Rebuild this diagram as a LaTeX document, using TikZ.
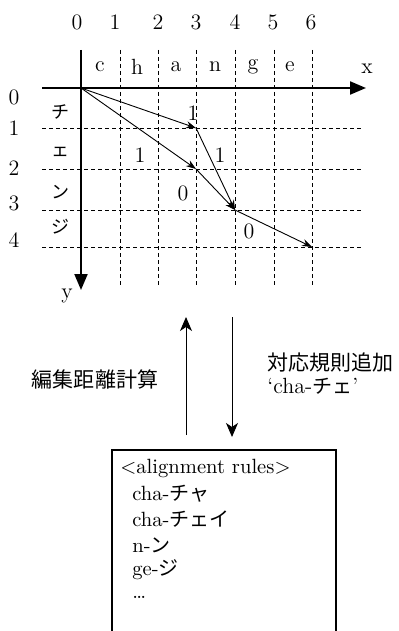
\documentclass[tikz,border=0pt]{standalone}
\usepackage{fontspec}
\newfontfamily\jp{Noto Sans CJK JP}
\usetikzlibrary{arrows.meta}
\begin{document}
\begin{tikzpicture}[x=0.5pt,y=-0.5pt,
  lbl/.style={font=\fontsize{11}{13}\selectfont, inner sep=0pt},
  boxtxt/.style={font=\fontsize{10.3}{12}\selectfont, inner sep=0pt, anchor=west},
  jlbl/.style={font=\jp\fontsize{10.5}{12}\selectfont, inner sep=0pt},
  kana/.style={font=\jp\fontsize{9}{11}\selectfont, inner sep=0pt},
  gridline/.style={line width=0.5pt, dash pattern=on 2pt off 1.5pt},
  axis/.style={line width=1pt, -{Triangle[length=8pt,width=6.5pt]}},
  pathar/.style={line width=0.45pt, -{Stealth[length=5pt,width=3.5pt]}},
  flow/.style={line width=0.5pt, -{Stealth[length=7pt,width=6pt,inset=2pt]}},
]
\useasboundingbox (0,0) rectangle (399,631);
% dashed grid
\foreach \x in {120,158,196,235,274,312} \draw[gridline] (\x,50) -- (\x,287);
\foreach \y in {128,169,210,247} \draw[gridline] (42,\y) -- (362,\y);
% axes
\coordinate (xs) at (42,88);
\coordinate (xe) at (366,88);
\coordinate (ys) at (81,50);
\coordinate (ye) at (81,290);
\draw[axis] (xs) -- (xe);
\draw[axis] (ys) -- (ye);
\node[lbl] (xl) at (367,69) {x};
\node[lbl] (yl) at (67,296) {y};
% column numbers
\node[lbl] (t0) at (77,22) {0};
\node[lbl] (t1) at (115,22) {1};
\node[lbl] (t2) at (158,22) {2};
\node[lbl] (t3) at (196,22) {3};
\node[lbl] (t4) at (235,22) {4};
\node[lbl] (t5) at (273,22) {5};
\node[lbl] (t6) at (311,22) {6};
% row numbers
\node[lbl] (s0) at (14,97) {0};
\node[lbl] (s1) at (14,128) {1};
\node[lbl] (s2) at (14,168) {2};
\node[lbl] (s3) at (14,203) {3};
\node[lbl] (s4) at (14,240) {4};
% letters
\node[lbl] (c1) at (100,67) {c};
\node[lbl] (c2) at (137,67) {h};
\node[lbl] (c3) at (176,67) {a};
\node[lbl] (c4) at (215,67) {n};
\node[lbl] (c5) at (253,67) {g};
\node[lbl] (c6) at (290,67) {e};
\node[kana] (k1) at (60,112) {チ};
\node[kana] (k2) at (60,152) {ェ};
\node[kana] (k3) at (60,192) {ン};
\node[kana] (k4) at (60,227) {ジ};
% cell values
\node[lbl] (v1) at (193,113) {1};
\node[lbl] (v2) at (140,155) {1};
\node[lbl] (v3) at (220,155) {1};
\node[lbl] (v4) at (183,193) {0};
\node[lbl] (v5) at (249,231) {0};
% path arrows
\coordinate (p00) at (81,88);
\coordinate (p31) at (196,128);
\coordinate (p32) at (196,169);
\coordinate (p43) at (235,210);
\coordinate (p64) at (312,247);
\draw[pathar] (p00) -- (p31);
\draw[pathar] (p00) -- (p32);
\draw[pathar] (p31) -- (p43);
\draw[pathar] (p32) -- (p43);
\draw[pathar] (p43) -- (p64);
% flow arrows and labels
\coordinate (ub) at (186,435);
\coordinate (ut) at (186,317);
\coordinate (dt) at (232,317);
\coordinate (db) at (232,437);
\draw[flow] (ub) -- (ut);
\draw[flow] (dt) -- (db);
\node[jlbl] (calc) at (95,379) {編集距離計算};
\node[jlbl, anchor=west] (add) at (267,363) {対応規則追加};
\node[lbl, anchor=west] (addr) at (267,386) {`cha-{\jp\fontsize{10}{12}\selectfont チェ}'};
% rules box
\draw[line width=0.6pt] (112,631) -- (112,450) -- (336,450) -- (336,631);
\node[boxtxt] (r0) at (120,468) {\textless alignment rules\textgreater};
\node[boxtxt] (r1) at (132,494) {cha-{\jp\fontsize{10}{12}\selectfont チャ}};
\node[boxtxt] (r2) at (132,519) {cha-{\jp\fontsize{10}{12}\selectfont チェイ}};
\node[boxtxt] (r3) at (132,545) {n-{\jp\fontsize{10}{12}\selectfont ン}};
\node[boxtxt] (r4) at (132,570) {ge-{\jp\fontsize{10}{12}\selectfont ジ}};
\node[boxtxt] (r5) at (132,597) {\ldots};
\end{tikzpicture}
\end{document}
